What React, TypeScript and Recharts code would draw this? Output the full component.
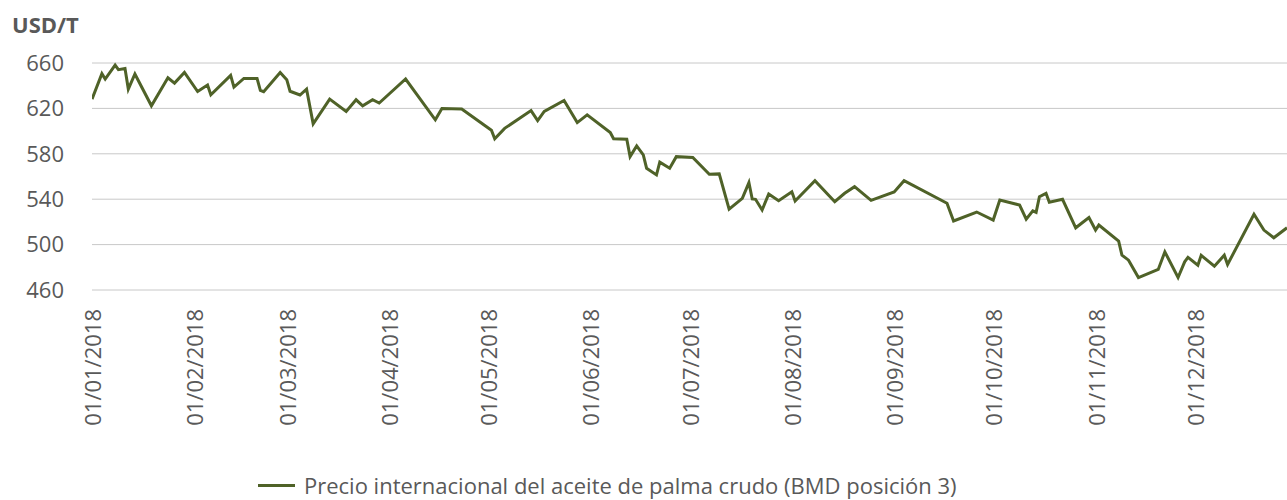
import React from 'react';
import { LineChart, Line, XAxis, YAxis, CartesianGrid, Legend } from 'recharts';

const seriesName = 'Precio internacional del aceite de palma crudo (BMD posición 3)';
const unitLabel = 'USD/T';

const dates = [
  '2018-01-01', '2018-01-04', '2018-01-05', '2018-01-08', '2018-01-09', '2018-01-11', '2018-01-12', '2018-01-14', '2018-01-19', '2018-01-24',
  '2018-01-26', '2018-01-29', '2018-02-02', '2018-02-05', '2018-02-06', '2018-02-12', '2018-02-13', '2018-02-16', '2018-02-20', '2018-02-21',
  '2018-02-22', '2018-02-27', '2018-03-01', '2018-03-02', '2018-03-05', '2018-03-07', '2018-03-09', '2018-03-14', '2018-03-19', '2018-03-22',
  '2018-03-24', '2018-03-27', '2018-03-29', '2018-04-06', '2018-04-15', '2018-04-17', '2018-04-23', '2018-05-02', '2018-05-03', '2018-05-06',
  '2018-05-14', '2018-05-16', '2018-05-18', '2018-05-24', '2018-05-28', '2018-05-31', '2018-06-07', '2018-06-08', '2018-06-12', '2018-06-13',
  '2018-06-15', '2018-06-17', '2018-06-18', '2018-06-21', '2018-06-22', '2018-06-25', '2018-06-27', '2018-07-02', '2018-07-07', '2018-07-10',
  '2018-07-13', '2018-07-17', '2018-07-19', '2018-07-20', '2018-07-21', '2018-07-23', '2018-07-25', '2018-07-28', '2018-08-01', '2018-08-02',
  '2018-08-08', '2018-08-14', '2018-08-17', '2018-08-20', '2018-08-25', '2018-09-01', '2018-09-04', '2018-09-17', '2018-09-19', '2018-09-26',
  '2018-10-01', '2018-10-03', '2018-10-09', '2018-10-11', '2018-10-13', '2018-10-14', '2018-10-15', '2018-10-17', '2018-10-18', '2018-10-22',
  '2018-10-26', '2018-10-30', '2018-11-01', '2018-11-02', '2018-11-08', '2018-11-09', '2018-11-11', '2018-11-14', '2018-11-20', '2018-11-22',
  '2018-11-26', '2018-11-28', '2018-11-29', '2018-12-02', '2018-12-03', '2018-12-07', '2018-12-10', '2018-12-11', '2018-12-19', '2018-12-22',
  '2018-12-25', '2018-12-29',
];

const prices = [
  628.2, 650.6, 645.9, 658.2, 654.1, 655.2, 637.0, 650.3, 622.3, 647.0,
  642.3, 651.7, 634.9, 640.6, 632.0, 649.1, 638.8, 646.4, 646.4, 635.8,
  634.7, 651.7, 645.3, 635.1, 631.8, 637.0, 606.4, 628.2, 617.3, 627.6,
  622.3, 627.6, 624.7, 645.9, 609.9, 619.9, 619.4, 600.8, 593.3, 602.4,
  618.1, 609.3, 617.3, 627.0, 607.5, 614.3, 598.7, 593.2, 592.9, 577.5,
  587.0, 579.0, 567.3, 561.4, 572.6, 567.3, 577.5, 576.8, 562.0, 562.3,
  531.3, 540.8, 554.6, 540.2, 539.9, 530.5, 544.6, 538.7, 546.6, 538.4,
  556.3, 537.8, 545.2, 551.0, 539.0, 546.4, 556.3, 536.4, 520.8, 528.7,
  521.6, 539.3, 534.9, 522.5, 529.8, 528.4, 542.2, 545.2, 537.3, 539.9,
  514.8, 523.8, 512.8, 517.2, 503.1, 490.7, 486.3, 471.0, 478.1, 493.6,
  471.0, 484.8, 488.7, 481.9, 490.5, 481.0, 490.7, 482.5, 526.7, 512.8,
  506.0, 514.8,
];

const monthTicks = [
  '2018-01-01', '2018-02-01', '2018-03-01', '2018-04-01', '2018-05-01', '2018-06-01',
  '2018-07-01', '2018-08-01', '2018-09-01', '2018-10-01', '2018-11-01', '2018-12-01',
];

const yTicks = [460, 500, 540, 580, 620, 660];

const LINE_COLOR = '#4F6228';
const TEXT_COLOR = '#595959';
const GRID_COLOR = '#C8C8C8';
const FONT = "'Open Sans', sans-serif";
const DAY_MS = 86400000;
const START = Date.UTC(2018, 0, 1);

const dayOf = (iso: string) => {
  const [y, m, d] = iso.split('-').map(Number);
  return (Date.UTC(y, m - 1, d) - START) / DAY_MS;
};
const pad = (n: number) => (n < 10 ? '0' + n : '' + n);
const fmtDay = (day: number) => {
  const dt = new Date(START + day * DAY_MS);
  return `${pad(dt.getUTCDate())}/${pad(dt.getUTCMonth() + 1)}/${dt.getUTCFullYear()}`;
};

const data = dates.map((d, i) => ({ day: dayOf(d), price: prices[i] }));
const xTicks = monthTicks.map(dayOf);
const xMax = dayOf(dates[dates.length - 1]);

const XTick = (props: any) => {
  const { x, y, payload } = props;
  return (
    <text
      x={x}
      y={y}
      transform={`rotate(-90 ${x} ${y})`}
      textAnchor="end"
      dominantBaseline="central"
      fill={TEXT_COLOR}
      fontSize={22}
      fontFamily={FONT}
    >
      {fmtDay(payload.value)}
    </text>
  );
};

const LegendContent = (props: any) => {
  const items = props.payload || [];
  return (
    <div style={{ display: 'flex', alignItems: 'center', height: 22 }}>
      {items.map((it: any) => (
        <div key={it.value} style={{ display: 'flex', alignItems: 'center', height: 22 }}>
          <span style={{ display: 'inline-block', width: 37, height: 3, background: it.color }} />
          <span
            style={{
              marginLeft: 9,
              fontSize: 22,
              color: TEXT_COLOR,
              fontFamily: FONT,
              whiteSpace: 'nowrap',
              lineHeight: '22px',
            }}
          >
            {it.value}
          </span>
        </div>
      ))}
    </div>
  );
};

export default function App() {
  return (
    <div style={{ position: 'absolute', left: 0, top: 0, width: 1287, height: 500, background: '#fff', fontFamily: FONT }}>
      <LineChart width={1287} height={500} data={data} margin={{ top: 63, right: 0, bottom: 0, left: 0 }}>
        <CartesianGrid vertical={false} stroke={GRID_COLOR} strokeWidth={1} />
        <XAxis
          type="number"
          dataKey="day"
          domain={[0, xMax]}
          ticks={xTicks}
          interval={0}
          allowDataOverflow
          tick={<XTick />}
          tickLine={false}
          axisLine={false}
          tickSize={0}
          tickMargin={19}
          height={210}
        />
        <YAxis
          type="number"
          domain={[460, 660]}
          ticks={yTicks}
          interval={0}
          width={92}
          tickLine={false}
          axisLine={false}
          tickSize={0}
          tickMargin={28}
          tick={{ fill: TEXT_COLOR, fontSize: 22, fontFamily: FONT }}
        />
        <Line
          type="linear"
          dataKey="price"
          name={seriesName}
          stroke={LINE_COLOR}
          strokeWidth={3}
          dot={false}
          activeDot={false}
          isAnimationActive={false}
        />
        <Legend
          layout="horizontal"
          verticalAlign="middle"
          align="center"
          content={<LegendContent />}
          wrapperStyle={{ top: 474, left: 258, width: 900, height: 22 }}
        />
      </LineChart>
      <svg width={200} height={50} style={{ position: 'absolute', left: 0, top: 0 }}>
        <text x={12} y={33} fontSize={22} fontWeight="bold" fill={TEXT_COLOR} fontFamily={FONT}>
          {unitLabel}
        </text>
      </svg>
    </div>
  );
}
